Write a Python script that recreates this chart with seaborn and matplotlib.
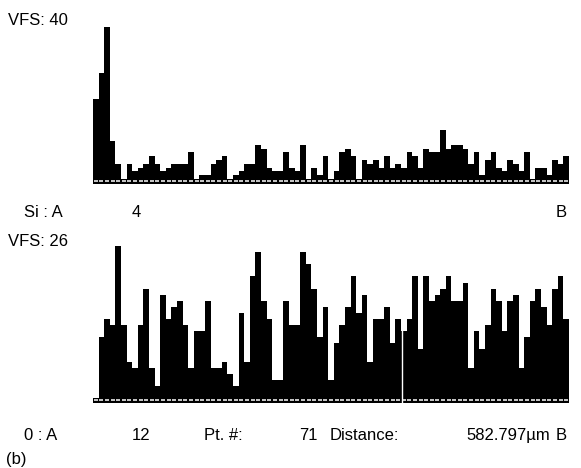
import numpy as np
import pandas as pd
import matplotlib
matplotlib.use("Agg")
import matplotlib.pyplot as plt
import seaborn as sns

# Counts per point along the line scan A -> B (85 points)
si_counts = [21, 28, 40, 10, 4, 0, 4, 2, 3, 4,
             6, 4, 2, 3, 4, 4, 4, 7, 0, 1,
             1, 4, 5, 6, 0, 1, 2, 4, 4, 9,
             8, 3, 2, 2, 7, 3, 2, 9, 0, 3,
             1, 6, 0, 2, 7, 8, 6, 0, 5, 4,
             5, 3, 6, 3, 4, 3, 7, 6, 3, 8,
             7, 7, 13, 8, 9, 9, 8, 4, 7, 1,
             5, 7, 3, 2, 5, 4, 2, 7, 0, 3,
             3, 1, 5, 4, 6]
o_counts = [0, 10, 13, 12, 25, 12, 6, 5, 12, 18,
            5, 2, 17, 13, 15, 16, 12, 5, 11, 11,
            16, 5, 5, 6, 4, 2, 14, 6, 20, 24,
            16, 13, 3, 3, 16, 12, 12, 24, 22, 18,
            10, 15, 3, 9, 12, 15, 20, 14, 17, 6,
            13, 13, 15, 9, 13, 11, 13, 20, 8, 20,
            16, 17, 18, 20, 16, 16, 19, 5, 11, 8,
            12, 18, 16, 11, 16, 17, 5, 10, 16, 18,
            15, 12, 18, 20, 13]

si_vfs = 40
o_vfs = 26
si_cursor = 4
o_cursor = 12
point_count = 71
distance_um = 582.797

W, H = 581, 468
sns.set_theme(style="white")
plt.rcParams["font.family"] = ["Liberation Sans", "DejaVu Sans"]

fig = plt.figure(figsize=(W / 100, H / 100), dpi=100)
fig.patch.set_facecolor("white")


def px_axes(x0, x1, y_base, y_top):
    return fig.add_axes([x0 / W, (H - y_base) / H, (x1 - x0) / W, (y_base - y_top) / H])


def scan_panel(ax, counts, vfs):
    n = len(counts)
    df = pd.DataFrame({"pt": np.arange(n), "count": counts})
    sns.barplot(data=df, x="pt", y="count", color="black", width=1.0,
                saturation=1, edgecolor="black", linewidth=0,
                antialiased=False, ax=ax)
    ax.set_xlim(-0.5, n - 0.5)
    ax.set_ylim(0, vfs)
    ax.set_axis_off()
    # dashed baseline strip under the bars
    h_ax = ax.get_position().height * H
    tr = ax.get_xaxis_transform()
    ax.add_patch(plt.Rectangle((-0.5, -4.5 / h_ax), n, 4.5 / h_ax, transform=tr,
                               facecolor="black", edgecolor="none", clip_on=False))
    ax.hlines(np.full(n, -2.2 / h_ax), np.arange(n) - 0.36, np.arange(n) + 0.36,
              colors="white", linewidth=1.1, transform=tr, clip_on=False)


ax_si = px_axes(93, 569, 179, 27)
scan_panel(ax_si, si_counts, si_vfs)

ax_o = px_axes(93, 569, 398, 240)
scan_panel(ax_o, o_counts, o_vfs)
ax_o.axvline(54.7, ymin=-6 / 158, ymax=1, color="white", linewidth=1.0, clip_on=False)

fs = 12


def label(x, y, s, ha="left"):
    fig.text(x / W, 1 - y / H, s, ha=ha, va="baseline", fontsize=fs, color="black")


label(8, 25, f"VFS: {si_vfs}")
label(24, 217, "Si : A")
label(141, 217, f"{si_cursor}", ha="right")
label(567, 217, "B", ha="right")

label(8, 246, f"VFS: {o_vfs}")
label(24, 440, "0 : A")
label(150, 440, f"{o_cursor}", ha="right")
label(204, 440, "Pt. #:")
label(318, 440, f"{point_count}", ha="right")
label(330, 440, "Distance:")
label(550, 440, f"{distance_um:.3f}\u00b5m", ha="right")
label(567, 440, "B", ha="right")

label(6, 464, "(b)")

fig.savefig("out.png", dpi=100, facecolor="white")
